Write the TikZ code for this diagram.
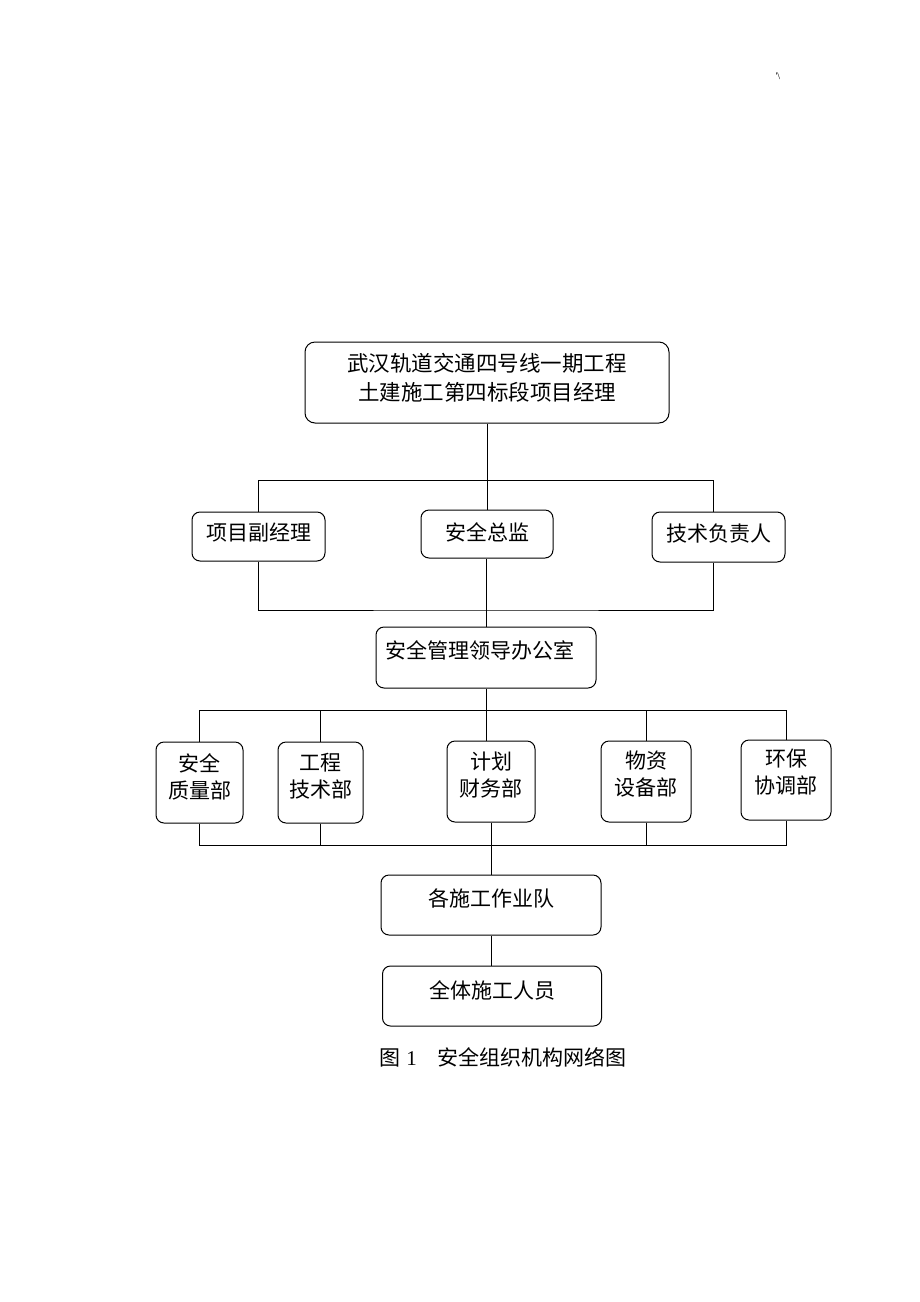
\documentclass[tikz,border=0pt]{standalone}
\usepackage{fontspec}
\setmainfont{Liberation Serif}
\newfontfamily\cjk{Noto Sans CJK SC}
\usetikzlibrary{calc,positioning}
\tikzset{
  box/.style={draw,rounded corners=8pt,line width=1pt,inner sep=0pt},
  link/.style={draw,line width=1pt},
  txt/.style={inner sep=0pt,align=center,font=\cjk\fontsize{21}{28}\selectfont},
}

\begin{document}
\begin{tikzpicture}[x=1pt,y=-1pt]
  \useasboundingbox (0,0) rectangle (920,1302);
  \node (mark) at (778,76) {\fontsize{10}{10}\selectfont \textquotesingle\kern-0.5pt\textbackslash};

  % manager
  \node (top) [box,rounded corners=10pt,minimum width=364pt,minimum height=81pt] at (487,382.5) {};
  \node (topT) [txt,font=\cjk\fontsize{21.5}{29}\selectfont] at (487,377.5) {武汉轨道交通四号线一期工程\\土建施工第四标段项目经理};

  % second row
  \node (pm) [box,minimum width=133pt,minimum height=49pt] at (258.5,536.5) {};
  \node (pmT) [txt] at (258.5,533) {项目副经理};
  \node (chief) [box,minimum width=132pt,minimum height=48pt] at (487,534) {};
  \node (chiefT) [txt] at (487,532) {安全总监};
  \node (tech) [box,minimum width=133pt,minimum height=50pt] at (718.5,537) {};
  \node (techT) [txt] at (718.5,534) {技术负责人};

  % office
  \node (office) [box,minimum width=220pt,minimum height=61pt] at (486,657.5) {};
  \node (officeT) [txt] at (480,650) {安全管理领导办公室};

  % departments
  \node (qa) [box,minimum width=87pt,minimum height=81pt] at (199.5,782.5) {};
  \node (qaT) [txt,font=\cjk\fontsize{21}{27}\selectfont] at (199.5,776.5) {安全\\质量部};
  \node (eng) [box,minimum width=85pt,minimum height=81pt] at (320.5,782.5) {};
  \node (engT) [txt,font=\cjk\fontsize{21}{27}\selectfont] at (320.5,776) {工程\\技术部};
  \node (fin) [box,minimum width=88pt,minimum height=81pt] at (491,781.5) {};
  \node (finT) [txt,font=\cjk\fontsize{21}{27}\selectfont] at (491,775) {计划\\财务部};
  \node (mat) [box,minimum width=90pt,minimum height=81pt] at (646,781.5) {};
  \node (matT) [txt,font=\cjk\fontsize{21}{27}\selectfont] at (646,774) {物资\\设备部};
  \node (env) [box,minimum width=90pt,minimum height=80pt] at (786,780) {};
  \node (envT) [txt,font=\cjk\fontsize{21}{27}\selectfont] at (786,772) {环保\\协调部};

  % teams
  \node (team) [box,minimum width=220pt,minimum height=60pt] at (491,905) {};
  \node (teamT) [txt] at (491,898) {各施工作业队};
  \node (staff) [box,minimum width=219pt,minimum height=60pt] at (492,996) {};
  \node (staffT) [txt] at (492,990) {全体施工人员};

  \node (caption) [inner sep=0pt,font=\fontsize{21}{28}\selectfont] at (503,1057) {{\cjk 图}\hspace{0.3em}1\hspace{1em}{\cjk 安全组织机构网络图}};

  % buses
  \coordinate (b1) at (487,480);
  \coordinate (b1R) at (713,480);
  \coordinate (b2) at (486,610);
  \coordinate (b3) at (486,710);
  \coordinate (b4) at (491,845);

  \path [link] (top.south) -- (chief.north);
  \path [link] (pm.north) |- (b1R) -- (tech.north -| b1R);
  \path [link] (pm.south) |- (b2) -| (tech.south -| b1R);
  \path [link] (office.north) -- (office.north |- chief.south);
  \path [link] (office.south) -- (office.south |- fin.north);
  \path [link] (qa.north) |- (b3) -| (env.north);
  \path [link] (eng.north) -- (eng.north |- b3);
  \path [link] (mat.north) -- (mat.north |- b3);
  \path [link] (qa.south) |- (b4) -| (env.south);
  \path [link] (eng.south) -- (eng.south |- b4);
  \path [link] (mat.south) -- (mat.south |- b4);
  \path [link] (fin.south) -- (team.north);
  \path [link] (team.south) -- (team.south |- staff.north);
\end{tikzpicture}
\end{document}
